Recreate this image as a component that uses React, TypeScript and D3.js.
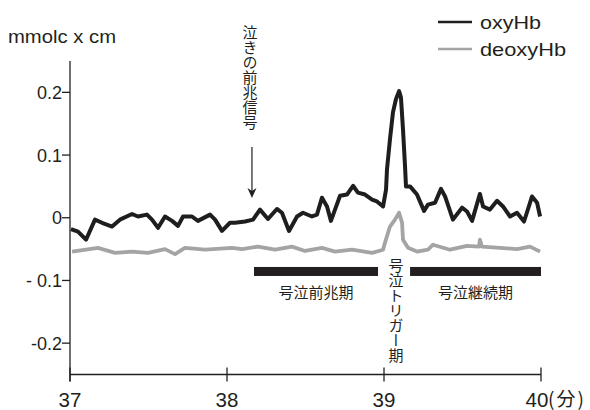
import * as d3 from "d3";

// time (minutes) and value (mmolc x cm)
const oxyMinutes = [
  37.006, 37.051, 37.102, 37.159, 37.204, 37.268, 37.318, 37.395, 37.433, 37.49,
  37.522, 37.561, 37.605, 37.65, 37.688, 37.72, 37.777, 37.815, 37.892, 37.924,
  37.968, 38.019, 38.051, 38.115, 38.166, 38.21, 38.261, 38.318, 38.35, 38.395,
  38.446, 38.484, 38.541, 38.573, 38.605, 38.637, 38.662, 38.688, 38.72, 38.764,
  38.803, 38.834, 38.879, 38.924, 38.955, 38.994, 39.013, 39.019, 39.038, 39.057,
  39.076, 39.096, 39.108, 39.121, 39.134, 39.14, 39.166, 39.21, 39.255, 39.28,
  39.325, 39.363, 39.389, 39.439, 39.497, 39.529, 39.561, 39.611, 39.631, 39.675,
  39.72, 39.758, 39.803, 39.847, 39.892, 39.943, 39.975, 39.994,
];
const oxyHb = [
  -0.018, -0.022, -0.035, -0.003, -0.008, -0.014, -0.003, 0.006, 0.002, 0.005,
  -0.003, -0.016, 0.002, -0.005, -0.013, 0.002, 0.002, -0.005, 0.005, -0.003,
  -0.021, -0.008, -0.008, -0.006, -0.003, 0.013, -0.002, 0.014, 0.008, -0.021,
  0.002, 0.008, 0.002, 0.005, 0.032, 0.018, -0.005, 0.013, 0.035, 0.037,
  0.051, 0.04, 0.037, 0.029, 0.026, 0.018, 0.045, 0.077, 0.125, 0.168,
  0.189, 0.202, 0.192, 0.141, 0.082, 0.05, 0.05, 0.037, 0.011, 0.021,
  0.024, 0.046, 0.034, -0.003, 0.016, 0.01, -0.005, 0.038, 0.018, 0.013,
  0.027, 0.018, 0.002, 0.008, -0.006, 0.034, 0.024, 0.002,
];

const deoxyMinutes = [
  37.013, 37.178, 37.287, 37.395, 37.497, 37.605, 37.669, 37.732, 37.86, 38.032,
  38.096, 38.197, 38.306, 38.414, 38.497, 38.605, 38.688, 38.796, 38.924, 38.994,
  39.006, 39.038, 39.07, 39.096, 39.115, 39.121, 39.153, 39.21, 39.28, 39.312,
  39.42, 39.529, 39.605, 39.611, 39.624, 39.739, 39.847, 39.93, 39.994,
];
const deoxyHb = [
  -0.054, -0.048, -0.056, -0.054, -0.056, -0.05, -0.058, -0.048, -0.051, -0.048,
  -0.05, -0.046, -0.051, -0.046, -0.053, -0.048, -0.054, -0.051, -0.056, -0.051,
  -0.04, -0.014, -0.003, 0.008, -0.008, -0.035, -0.048, -0.054, -0.051, -0.043,
  -0.051, -0.045, -0.046, -0.035, -0.046, -0.048, -0.05, -0.046, -0.054,
];

const xTicks = [37, 38, 39, 40];
const yTicks = [0.2, 0.1, 0, -0.1, -0.2];
const yTickLabels = ["0.2", "0.1", "0", "- 0.1", "-0.2"];

const phaseLabels = ["号泣前兆期", "号泣継続期"];
const phaseStarts = [38.172, 39.166];
const phaseEnds = [38.962, 40.0];

const seriesNames = ["oxyHb", "deoxyHb"];
const seriesColors = ["#1e1e1e", "#a4a4a4"];

const W = 590;
const H = 410;
const LATIN = "'Liberation Sans', Arial, sans-serif";
const CJK = "'Noto Sans CJK JP', sans-serif";

export default function App() {
  const x = d3.scaleLinear().domain([37, 40]).range([70, 541]);
  const y = d3.scaleLinear().domain([-0.25, 0.25]).range([374.5, 61]);

  const oxyLine = d3
    .line<number>()
    .x((_, i) => x(oxyMinutes[i]))
    .y((d) => y(d));
  const deoxyLine = d3
    .line<number>()
    .x((_, i) => x(deoxyMinutes[i]))
    .y((d) => y(d));

  const axisY = y(-0.25);
  const barTop = y(-0.0785);
  const barH = 9;
  const arrowX = x(38.159);

  return (
    <svg
      width={W}
      height={H}
      style={{ position: "absolute", left: 0, top: 0, background: "#fff" }}
    >
      {/* unit label */}
      <text x={8} y={43} fontFamily={LATIN} fontSize={17.5} textLength={108} lengthAdjust="spacingAndGlyphs" fill="#231f20">
        mmolc x cm
      </text>

      {/* y axis */}
      <line x1={x(37)} x2={x(37)} y1={y(0.25)} y2={axisY + 7} stroke="#231f20" strokeWidth={1.3} />
      {yTicks.map((t, i) => (
        <g key={t}>
          <line x1={x(37) - 8} x2={x(37)} y1={y(t)} y2={y(t)} stroke="#231f20" strokeWidth={1.3} />
          <text x={62} y={y(t) + 6.5} textAnchor="end" fontFamily={LATIN} fontSize={18} fill="#231f20">
            {yTickLabels[i]}
          </text>
        </g>
      ))}

      {/* x axis */}
      <line x1={x(37)} x2={x(40)} y1={axisY} y2={axisY} stroke="#231f20" strokeWidth={1.3} />
      {xTicks.map((t) => (
        <g key={t}>
          <line x1={x(t)} x2={x(t)} y1={axisY - 7} y2={axisY + 7} stroke="#231f20" strokeWidth={1.3} />
          <text
            x={t === 40 ? x(t) - 4 : x(t)}
            y={407}
            textAnchor="middle"
            fontFamily={LATIN}
            fontSize={20.5}
            fill="#231f20"
          >
            {t}
          </text>
        </g>
      ))}
      <text x={x(40) + 7} y={406} fontFamily={CJK} fontSize={19} letterSpacing={2} fill="#231f20">
        (分)
      </text>

      {/* traces */}
      <path d={deoxyLine(deoxyHb) ?? ""} fill="none" stroke={seriesColors[1]} strokeWidth={3.8} strokeLinejoin="round" />
      <path d={oxyLine(oxyHb) ?? ""} fill="none" stroke={seriesColors[0]} strokeWidth={4} strokeLinejoin="round" />

      {/* phase bars */}
      {phaseLabels.map((lab, i) => (
        <g key={lab}>
          <rect
            x={x(phaseStarts[i])}
            y={barTop}
            width={x(phaseEnds[i]) - x(phaseStarts[i])}
            height={barH}
            fill="#231f20"
          />
          <text
            x={(x(phaseStarts[i]) + x(phaseEnds[i])) / 2}
            y={298}
            textAnchor="middle"
            fontFamily={CJK}
            fontSize={15}
            fill="#231f20"
          >
            {lab}
          </text>
        </g>
      ))}
      <text
        x={396}
        y={258}
        fontFamily={CJK}
        fontSize={15}
        fill="#231f20"
        style={{ writingMode: "vertical-rl" }}
      >
        号泣トリガー期
      </text>

      {/* onset annotation */}
      <text x={250} y={25} fontFamily={CJK} fontSize={15} fill="#231f20" style={{ writingMode: "vertical-rl" }}>
        泣きの前兆信号
      </text>
      <line x1={arrowX} x2={arrowX} y1={147} y2={193} stroke="#231f20" strokeWidth={1.2} />
      <path
        d={`M${arrowX - 4.5},188 L${arrowX},198 L${arrowX + 4.5},188 L${arrowX},191 Z`}
        fill="#231f20"
      />

      {/* legend */}
      {seriesNames.map((name, i) => (
        <g key={name}>
          <line x1={438} x2={472} y1={22 + i * 27} y2={22 + i * 27} stroke={seriesColors[i]} strokeWidth={2.6} />
          <text
            x={480}
            y={28.5 + i * 27}
            fontFamily={LATIN}
            fontSize={18.5}
            textLength={i === 0 ? 61 : 86}
            lengthAdjust="spacingAndGlyphs"
            fill="#231f20"
          >
            {name}
          </text>
        </g>
      ))}
    </svg>
  );
}
